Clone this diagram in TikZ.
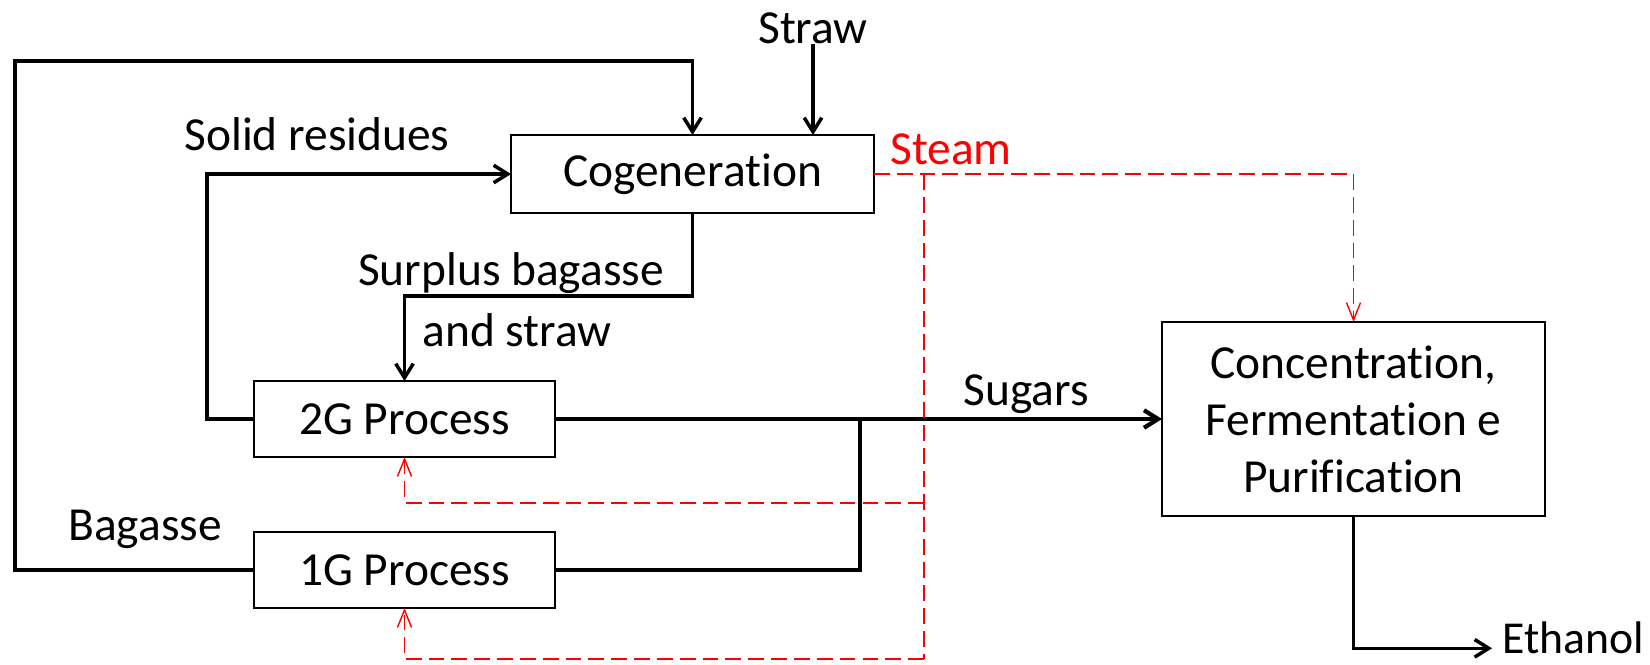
\documentclass[tikz,border=0pt]{standalone}
\usepackage{fontspec}
\setmainfont[RawFeature={-liga;-clig;-rlig;-calt;-dlig}]{Carlito}
\usetikzlibrary{arrows.meta}
\definecolor{steamred}{RGB}{255,0,0}

\tikzset{
  unit/.style={draw, line width=1.3pt, inner sep=0pt, outer sep=0pt, align=center},
  label/.style={inner sep=0pt},
  flow/.style={line width=2pt, -{Straight Barb[length=8pt,width=10pt]}},
  pipe/.style={line width=2pt},
  steamline/.style={draw=steamred, line width=0.8pt, dash pattern=on 9pt off 4pt},
  steamflow/.style={steamline, -{Straight Barb[length=10pt,width=8pt]}}
}

\begin{document}
\begin{tikzpicture}[x=0.02cm, y=-0.02cm, font=\fontsize{27}{32.4}\selectfont]
    \useasboundingbox (0,0) rectangle (1650,664);

    % process units
    \node[unit, minimum width=7.26cm, minimum height=1.56cm] (cogen) at (692.5,174) {Cogeneration};
    \node[unit, minimum width=6.02cm, minimum height=1.52cm] (gtwo) at (404.5,419) {2G Process};
    \node[unit, minimum width=6.02cm, minimum height=1.52cm] (gone) at (404.5,570) {1G Process};
    \node[unit, minimum width=7.66cm, minimum height=3.88cm] (conc) at (1353.5,419)
        {Concentration,\\Fermentation e\\Purification};

    % stream labels
    \node[label] (straw) at (813,28) {Straw};
    \node[label] at (317,134) {Solid residues};
    \node[label, text=steamred] at (951,149) {Steam};
    \node[label] at (511,273) {Surplus bagasse};
    \node[label] at (517,330) {and straw};
    \node[label] at (1026,394) {Sugars};
    \node[label] at (145,529) {Bagasse};
    \node[label, anchor=base west, font=\fontsize{26}{31}\selectfont] (ethanol) at (1502,653) {Ethanol};

    % helper points
    \coordinate (loop) at (15,61);
    \coordinate (resid) at (207,0);
    \coordinate (surplus) at (0,296);
    \coordinate (join) at (860,419);
    \coordinate (steamtop) at (924,174);
    \coordinate (steammid) at (924,503);
    \coordinate (steambot) at (924,659);

    % solid streams
    \draw[flow] (straw.south) -- (straw.south |- cogen.north);
    \draw[flow] (gone.west) -| (loop) -| (cogen.north);
    \draw[flow] (gtwo.west) -| (resid |- cogen.west) -- (cogen.west);
    \draw[flow] (cogen.south) -- (cogen.south |- surplus) -| (gtwo.north);
    \draw[pipe] (gtwo.east) -- (join);
    \draw[pipe] (gone.east) -| (join);
    \draw[flow, line width=2.4pt] (join) -- (conc.west);
    \draw[flow] (conc.south) |- ([xshift=-0.2cm,yshift=-0.22cm]ethanol.west);

    % steam
    \draw[steamflow] (cogen.east) -| (conc.north);
    \draw[steamline] (steamtop) -- (steambot);
    \draw[steamflow] (steammid) -| (gtwo.south);
    \draw[steamflow] (steambot) -| (gone.south);
\end{tikzpicture}
\end{document}
